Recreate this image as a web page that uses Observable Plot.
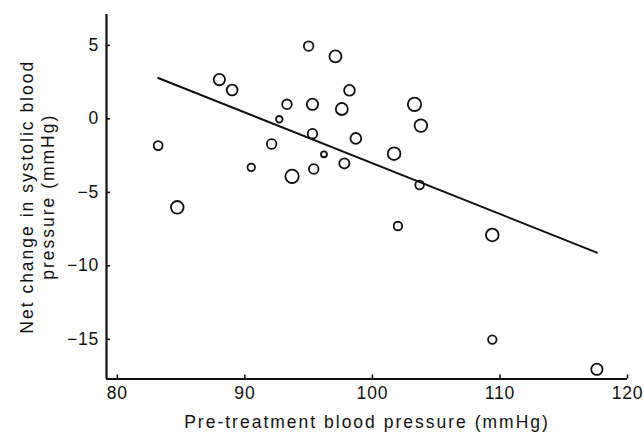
<!DOCTYPE html>
<html>
<head>
<meta charset="utf-8">
<script src="https://cdn.jsdelivr.net/npm/d3@7"></script>
<script src="https://cdn.jsdelivr.net/npm/@observablehq/plot@0.6"></script>
<style>
  html, body { margin: 0; padding: 0; background: #fff; }
</style>
</head>
<body>
<div id="chart"></div>
<script>
// ---- data ----
const xTicks = [80, 90, 100, 110, 120];
const yTicks = [5, 0, -5, -10, -15];
const pretreatment = [95.0, 97.1, 88.0, 89.0, 98.2, 93.3, 95.3, 97.6, 92.7, 83.2, 95.3, 98.7, 92.1, 96.2, 97.8, 90.5, 95.4, 93.7, 84.7, 101.7, 103.3, 103.8, 103.7, 102.0, 109.4, 109.4, 117.6];
const netChange = [4.95, 4.25, 2.67, 1.96, 1.94, 0.99, 0.99, 0.67, -0.03, -1.82, -1.01, -1.33, -1.71, -2.41, -3.03, -3.30, -3.41, -3.91, -6.02, -2.37, 0.99, -0.46, -4.50, -7.29, -7.90, -15.02, -17.04];
const weight = [23, 36, 32, 29, 29, 23, 32, 36, 11, 20, 23, 29, 23, 9, 26, 14, 23, 45, 40, 40, 45, 40, 19, 18, 40, 18, 32];
const fitX = [83.2, 117.6];
const fitY = [2.78, -9.10];
const xLabel = "Pre-treatment blood pressure (mmHg)";
const yLabelLines = ["Net change in systolic blood", "pressure (mmHg)"];
const xDomain = [79.15, 120];
const yDomain = [-17.7, 7.1];

// ---- layout ----
const W = 644, H = 435;
const mL = 106, mR = 17, mT = 14, mB = 56.5;
const innerW = W - mL - mR, innerH = H - mT - mB;
const FONT = "'Liberation Sans', Arial, Helvetica, sans-serif";

const points = pretreatment.map((x, i) => ({x, y: netChange[i], w: weight[i]}));
const fit = fitX.map((x, i) => ({x, y: fitY[i]}));

const chart = Plot.plot({
  width: W,
  height: H,
  marginLeft: mL,
  marginRight: mR,
  marginTop: mT,
  marginBottom: mB,
  x: {domain: xDomain},
  y: {domain: yDomain},
  r: {domain: [0, 45], range: [0, 6.7]},
  style: {fontFamily: FONT, fontSize: "17px", color: "#111", background: "white"},
  marks: [
    Plot.axisX(xTicks, {tickSize: 0, tickPadding: 8, label: null, fontSize: 17.5, tickFormat: d => String(d)}),
    Plot.axisY(yTicks, {tickSize: 0, tickPadding: 7.5, label: null, fontSize: 17.5}),
    Plot.ruleX(xTicks, {insetTop: innerH - 4, stroke: "#111", strokeWidth: 1.6}),
    Plot.ruleY(yTicks, {insetRight: innerW - 4, stroke: "#111", strokeWidth: 1.6}),
    Plot.ruleX([xDomain[0]], {stroke: "#111", strokeWidth: 2.2}),
    Plot.ruleY([yDomain[0]], {stroke: "#111", strokeWidth: 2.2}),
    Plot.dot(points, {x: "x", y: "y", r: "w", stroke: "#111", strokeWidth: 1.8, fill: "none"}),
    Plot.line(fit, {x: "x", y: "y", stroke: "#111", strokeWidth: 2}),
    Plot.text([xLabel], {frameAnchor: "bottom", textAnchor: "middle", lineAnchor: "middle", dy: 43, fontSize: 17.5, fill: "#111"}),
    Plot.text([yLabelLines.join("\n")], {frameAnchor: "left", textAnchor: "middle", lineAnchor: "middle", rotate: -90, dx: -70, lineHeight: 1.25, fontSize: 17.5, fill: "#111"})
  ]
});
// letter spacing of the reference typeface (wider tracking than Liberation Sans)
chart.querySelectorAll('g[aria-label="text"]').forEach(g => g.style.letterSpacing = "2px");
chart.querySelectorAll('g[aria-label$="tick label"]').forEach(g => g.style.letterSpacing = "0.8px");
document.getElementById("chart").appendChild(chart);
</script>
</body>
</html>
